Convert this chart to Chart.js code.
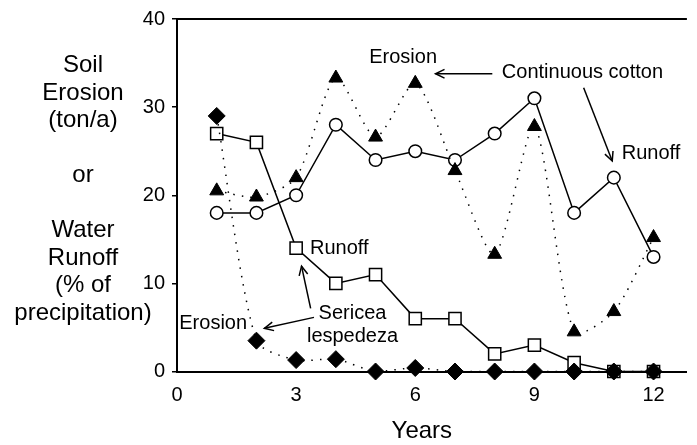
<!DOCTYPE html>
<html><head><meta charset="utf-8">
<script src="https://cdn.jsdelivr.net/npm/chart.js@4.4.1/dist/chart.umd.min.js"></script>
<style>html,body{margin:0;padding:0;background:#fff;}canvas{display:block;}</style>
</head><body>
<canvas id="c" width="697" height="445"></canvas>
<script>
// ---- data ----
const years = [1,2,3,4,5,6,7,8,9,10,11,12];
const cottonRunoff   = [18,18,20,28,24,25,24,27,31,18,22,13];
const cottonErosion  = [20.5,19.8,22,33.3,26.6,32.7,22.8,13.3,27.8,4.5,6.8,15.2];
const sericeaRunoff  = [27,26,14,10,11,6,6,2,3,1,0,0];
const sericeaErosion = [29,3.5,1.3,1.4,0,0.4,0,0,0,0,0,0];
const xTickValues = [0,3,6,9,12];
const yTickValues = [0,10,20,30,40];
const yTitleLines = ['Soil','Erosion','(ton/a)','','or','','Water','Runoff','(% of','precipitation)'];
const xTitle = 'Years';
const textNotes = [
  {text:'Erosion', x:4.84, y:35.67, align:'left'},
  {text:'Continuous cotton', x:8.18, y:33.9, align:'left'},
  {text:'Runoff', x:11.20, y:24.73, align:'left'},
  {text:'Runoff', x:3.35, y:13.96, align:'left'},
  {text:'Sericea', x:4.42, y:6.6, align:'center'},
  {text:'lespedeza', x:4.42, y:3.94, align:'center'},
  {text:'Erosion', x:0.057, y:5.46, align:'left'}
];
const arrows = [
  {from:[7.94,33.79], to:[6.51,33.79]},
  {from:[10.24,32.2], to:[10.96,23.89]},
  {from:[3.365,7.16], to:[3.136,11.95]},
  {from:[3.45,6.14], to:[2.20,4.90]}
];

const FONT = '"Liberation Sans", Arial, Helvetica, sans-serif';
const pts = arr => years.map((x,i)=>({x:x, y:arr[i]}));

const notesPlugin = {
  id:'notes',
  afterDraw(chart){
    const ctx = chart.ctx, a = chart.chartArea;
    const xs = chart.scales.x, ys = chart.scales.y;
    ctx.save();
    // top frame line
    ctx.strokeStyle = '#000'; ctx.lineWidth = 2;
    ctx.beginPath(); ctx.moveTo(a.left-1, a.top); ctx.lineTo(a.right, a.top); ctx.stroke();
    // text notes
    ctx.fillStyle = '#000';
    ctx.font = '20px ' + FONT;
    ctx.textBaseline = 'middle';
    textNotes.forEach(n=>{
      ctx.textAlign = n.align;
      ctx.fillText(n.text, xs.getPixelForValue(n.x), ys.getPixelForValue(n.y));
    });
    // arrows
    ctx.lineWidth = 1.5; ctx.lineCap = 'butt';
    arrows.forEach(ar=>{
      const x1 = xs.getPixelForValue(ar.from[0]), y1 = ys.getPixelForValue(ar.from[1]);
      const x2 = xs.getPixelForValue(ar.to[0]),   y2 = ys.getPixelForValue(ar.to[1]);
      ctx.beginPath(); ctx.moveTo(x1,y1); ctx.lineTo(x2,y2); ctx.stroke();
      const ang = Math.atan2(y2-y1, x2-x1), L = 10, w = 0.45;
      ctx.beginPath();
      ctx.moveTo(x2 - L*Math.cos(ang-w), y2 - L*Math.sin(ang-w));
      ctx.lineTo(x2, y2);
      ctx.lineTo(x2 - L*Math.cos(ang+w), y2 - L*Math.sin(ang+w));
      ctx.stroke();
    });
    // y title
    ctx.font = '24px ' + FONT;
    ctx.textAlign = 'center';
    yTitleLines.forEach((t,i)=>{
      if (t) ctx.fillText(t, 83, a.top + 46.5 + i*27.5);
    });
    // x title
    ctx.fillText(xTitle, xs.getPixelForValue(6.165), a.bottom + 60);
    ctx.restore();
  }
};

new Chart(document.getElementById('c'), {
  type:'line',
  data:{
    datasets:[
      {label:'Sericea erosion', data:pts(sericeaErosion), borderColor:'#000', backgroundColor:'#000',
       borderWidth:1.5, borderDash:[1.5,7], tension:0.25, pointStyle:'rectRot', pointRadius:8.5,
       pointBackgroundColor:'#000', pointBorderColor:'#000', pointBorderWidth:1, clip:false},
      {label:'Cotton erosion', data:pts(cottonErosion), borderColor:'#000', backgroundColor:'#000',
       borderWidth:1.5, borderDash:[1.5,7], tension:0.25, pointStyle:'triangle', pointRadius:8,
       pointBackgroundColor:'#000', pointBorderColor:'#000', pointBorderWidth:1, clip:false},
      {label:'Sericea runoff', data:pts(sericeaRunoff), borderColor:'#000', backgroundColor:'#fff',
       borderWidth:1.5, tension:0, pointStyle:'rect', pointRadius:8.6,
       pointBackgroundColor:'#fff', pointBorderColor:'#000', pointBorderWidth:1.5, clip:false},
      {label:'Cotton runoff', data:pts(cottonRunoff), borderColor:'#000', backgroundColor:'#fff',
       borderWidth:1.5, tension:0, pointStyle:'circle', pointRadius:6.3,
       pointBackgroundColor:'#fff', pointBorderColor:'#000', pointBorderWidth:1.5, clip:false}
    ]
  },
  options:{
    responsive:false, animation:false, devicePixelRatio:1,
    layout:{padding:{top:18.5,left:0,right:0,bottom:0}},
    plugins:{legend:{display:false}, tooltip:{enabled:false}},
    elements:{point:{hoverRadius:0}},
    scales:{
      x:{type:'linear', min:0, max:12.84,
         afterBuildTicks(s){ s.ticks = xTickValues.map(v=>({value:v})); },
         afterFit(s){ s.height = 73.5; },
         ticks:{font:{family:FONT,size:20}, color:'#000', padding:12, maxRotation:0, autoSkip:false},
         grid:{drawOnChartArea:false, drawTicks:false},
         border:{display:true, color:'#000', width:2}},
      y:{type:'linear', min:0, max:40,
         afterBuildTicks(s){ s.ticks = yTickValues.map(v=>({value:v})); },
         afterFit(s){ s.width = 177; },
         ticks:{font:{family:FONT,size:20}, color:'#000', padding:7},
         grid:{drawOnChartArea:false, drawTicks:true, tickLength:5, color:'#000', lineWidth:1.5},
         border:{display:true, color:'#000', width:2}}
    }
  },
  plugins:[notesPlugin]
});
</script>
</body></html>
